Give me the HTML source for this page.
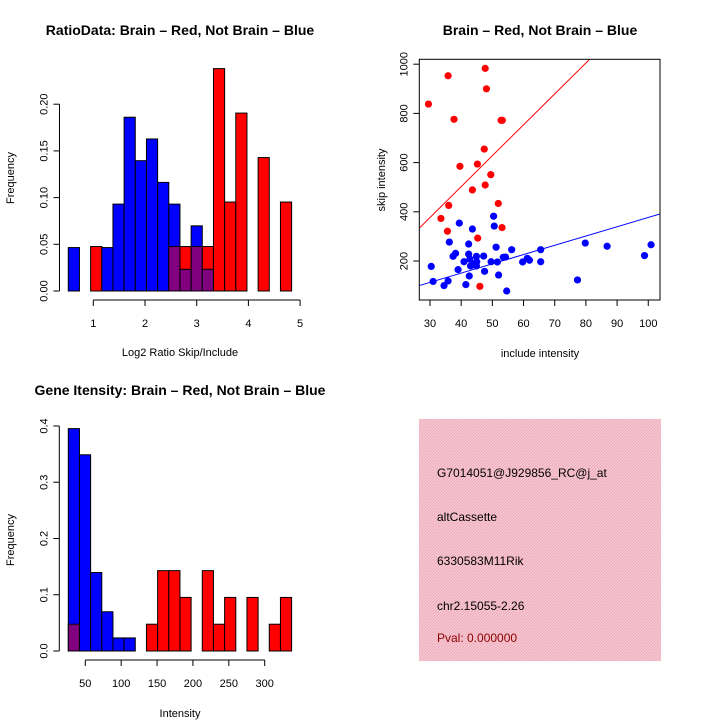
<!DOCTYPE html>
<html><head><meta charset="utf-8"><style>
body{margin:0;background:#fff}
svg{display:block;font-family:"Liberation Sans",Arial,sans-serif}
</style></head><body>
<svg id="c" width="720" height="720" viewBox="0 0 720 720">
<rect width="720" height="720" fill="#fff"/>
<defs><pattern id="hatch" width="3" height="3" patternUnits="userSpaceOnUse"><rect width="3" height="3" fill="#f6c6d0"/><path d="M0,3 L3,0" stroke="#eeaabb" stroke-width="0.8"/></pattern></defs>
<g id="p1"></g>
<g id="p2"></g>
<g id="p3"></g>
<g>
<rect x="419" y="419" width="242" height="242" fill="url(#hatch)"/>
<text x="437" y="477" font-size="12">G7014051@J929856_RC@j_at</text>
<text x="437" y="521" font-size="12">altCassette</text>
<text x="437" y="565" font-size="12">6330583M11Rik</text>
<text x="437" y="610" font-size="12">chr2.15055-2.26</text>
<text x="437" y="642" font-size="12" fill="#8b0000">Pval: 0.000000</text>
</g>
</svg>
<script>
// ---- Ratio histogram data ----
const ratioBinStart = 0.516, ratioBinWidth = 0.216;
const ratioBlueCounts = [2,0,0,2,4,8,6,7,5,4,1,3,1,0,0,0,0,0,0,0];
const ratioRedCounts  = [0,0,1,0,0,0,0,0,0,1,1,1,1,5,2,4,0,3,0,2];
const ratioYTicks = ["0.00","0.05","0.10","0.15","0.20"];
const ratioXTicks = [1,2,3,4,5];
// ---- Scatter data ----
const redInclude = [29.5,35.8,47.7,48.1,37.7,52.8,53.2,47.4,39.6,45.2,49.5,47.7,43.6,36,51.9,33.5,35.6,53.1,45.3,46];
const redSkip    = [838,953,983,900,776,772,772,655,585,594,551,509,489,426,434,373,321,336,293,97];
const blueInclude = [30.4,31,34.5,35.8,36.2,39.4,43.6,37.4,38.2,39,40.9,41.5,42.4,42.4,42.6,42.8,43,44.1,44.9,45,44.9,47.2,47.5,49.6,50.4,50.6,51.2,51.6,52,53.5,54.2,54.6,56.2,59.7,61.2,61.9,65.5,65.5,77.3,79.8,86.8,98.8,100.9];
const blueSkip    = [178,117,100,119,277,354,330,219,231,165,197,104,269,228,139,208,180,188,219,197,180,220,158,197,382,342,256,196,143,215,216,78,246,196,211,203,246,197,123,273,260,222,266];
const fitSlopes = [12.56, 3.77];
const scatterXTicks = [30,40,50,60,70,80,90,100];
const scatterYTicks = [200,400,600,800,1000];
// ---- Gene intensity histogram ----
const geneBinStart = 26.3, geneBinWidth = 15.56;
const geneBlueCounts = [17,15,6,3,1,1,0,0,0,0,0,0,0,0,0,0,0,0,0,0];
const geneRedCounts  = [1,0,0,0,0,0,0,1,3,3,2,0,3,1,2,0,2,0,1,2];
const geneYTicks = ["0.0","0.1","0.2","0.3","0.4"];
const geneXTicks = [50,100,150,200,250,300];

const NS="http://www.w3.org/2000/svg";
function mk(parent,tag,attrs,text){const e=document.createElementNS(NS,tag);for(const k in attrs)e.setAttribute(k,attrs[k]);if(text!==undefined)e.textContent=text;parent.appendChild(e);return e;}

function hist(g,o){
  const sx=v=>o.x0+(v-o.xv0)*o.kx, sy=v=>o.y0-v*o.ky;
  const nb=o.blue.reduce((a,b)=>a+b,0), nr=o.red.reduce((a,b)=>a+b,0);
  for(let i=0;i<o.blue.length;i++){
    const fb=o.blue[i]/nb, fr=o.red[i]/nr;
    const xa=sx(o.start+i*o.w), xb=sx(o.start+(i+1)*o.w);
    const hi=Math.max(fb,fr), lo=Math.min(fb,fr);
    if(hi>0){
      const r=mk(g,'rect',{x:xa,y:sy(hi),width:xb-xa,height:sy(0)-sy(hi),fill:fb>=fr?'#0000ff':'#ff0000',stroke:'#000','stroke-width':1});
      
      
    }
    if(lo>0){
      const r=mk(g,'rect',{x:xa,y:sy(lo),width:xb-xa,height:sy(0)-sy(lo),fill:'#800080',stroke:'#000','stroke-width':1});
      
      
    }
  }
  // y axis
  const yt=o.yticks, tv=yt.map(Number);
  mk(g,'line',{x1:o.yaxX,x2:o.yaxX,y1:sy(tv[0]),y2:sy(tv[tv.length-1]),stroke:'#000'});
  yt.forEach(t=>{const y=sy(Number(t));mk(g,'line',{x1:o.yaxX-6,x2:o.yaxX,y1:y,y2:y,stroke:'#000'});
    const tx=mk(g,'text',{x:o.yaxX-12,y:y,'font-size':11,'text-anchor':'middle',transform:`rotate(-90 ${o.yaxX-12} ${y})`},t);
    
    });
  // x axis
  const xt=o.xticks;
  mk(g,'line',{x1:sx(xt[0]),x2:sx(xt[xt.length-1]),y1:o.xaxY,y2:o.xaxY,stroke:'#000'});
  xt.forEach(t=>{const x=sx(t);mk(g,'line',{x1:x,x2:x,y1:o.xaxY,y2:o.xaxY+6,stroke:'#000'});
    const tx=mk(g,'text',{x:x,y:o.xaxY+27,'font-size':11,'text-anchor':'middle'},String(t));
    
    });
}

const p1=document.getElementById('p1');
hist(p1,{x0:93.3,xv0:1,kx:51.7,y0:291,ky:934,start:ratioBinStart,w:ratioBinWidth,blue:ratioBlueCounts,red:ratioRedCounts,yticks:ratioYTicks,xticks:ratioXTicks,yaxX:59.5,xaxY:300});
let t;
t=mk(p1,'text',{x:180,y:35,'font-size':14,'font-weight':'bold','text-anchor':'middle'},'RatioData: Brain \u2013 Red, Not Brain \u2013 Blue');


t=mk(p1,'text',{x:180,y:356,'font-size':11,'text-anchor':'middle'},'Log2 Ratio Skip/Include');


t=mk(p1,'text',{x:14,y:178,'font-size':11,'text-anchor':'middle',transform:'rotate(-90 14 178)'},'Frequency');



const p3=document.getElementById('p3');
hist(p3,{x0:85.3,xv0:50,kx:0.7176,y0:651,ky:562.5,start:geneBinStart,w:geneBinWidth,blue:geneBlueCounts,red:geneRedCounts,yticks:geneYTicks,xticks:geneXTicks,yaxX:59.3,xaxY:660});
t=mk(p3,'text',{x:180,y:395,'font-size':14,'font-weight':'bold','text-anchor':'middle'},'Gene Itensity: Brain \u2013 Red, Not Brain \u2013 Blue');


t=mk(p3,'text',{x:180,y:717,'font-size':11,'text-anchor':'middle'},'Intensity');


t=mk(p3,'text',{x:14,y:540,'font-size':11,'text-anchor':'middle',transform:'rotate(-90 14 540)'},'Frequency');



// scatter
const p2=document.getElementById('p2');
const L=419.3,R=660,T=59.3,B=300;
const sx2=v=>430+(v-30)*3.118, sy2=v=>261-(v-200)*0.246;
const xmin=30+(L-430)/3.118, xmax=30+(R-430)/3.118;
const cp=mk(mk(p2,'defs',{}),'clipPath',{id:'clip2'});mk(cp,'rect',{x:L,y:T,width:R-L,height:B-T});
const lc=['#ff0000','#0000ff'];
fitSlopes.forEach((s,i)=>{const l=mk(p2,'line',{x1:sx2(xmin),y1:sy2(s*xmin),x2:sx2(xmax),y2:sy2(s*xmax),stroke:lc[i],'stroke-width':1,'clip-path':'url(#clip2)'});
  
  });
redInclude.forEach((v,i)=>{const c=mk(p2,'circle',{cx:sx2(v),cy:sy2(redSkip[i]),r:3.6,fill:'#ff0000'});
  
  });
blueInclude.forEach((v,i)=>{const c=mk(p2,'circle',{cx:sx2(v),cy:sy2(blueSkip[i]),r:3.6,fill:'#0000ff'});
  
  });
mk(p2,'rect',{x:L,y:T,width:R-L,height:B-T,fill:'none',stroke:'#000','stroke-width':1});
scatterXTicks.forEach(v=>{const x=sx2(v);mk(p2,'line',{x1:x,x2:x,y1:B,y2:B+6,stroke:'#000'});
  const tx=mk(p2,'text',{x:x,y:B+27,'font-size':11,'text-anchor':'middle'},String(v));
  
  });
scatterYTicks.forEach(v=>{const y=sy2(v);mk(p2,'line',{x1:L-6,x2:L,y1:y,y2:y,stroke:'#000'});
  const tx=mk(p2,'text',{x:L-12,y:y,'font-size':11,'text-anchor':'middle',transform:`rotate(-90 ${L-12} ${y})`},String(v));
  
  });
t=mk(p2,'text',{x:540,y:35,'font-size':14,'font-weight':'bold','text-anchor':'middle'},'Brain \u2013 Red, Not Brain \u2013 Blue');


t=mk(p2,'text',{x:540,y:357,'font-size':11,'text-anchor':'middle'},'include intensity');


t=mk(p2,'text',{x:385,y:180,'font-size':11,'text-anchor':'middle',transform:'rotate(-90 385 180)'},'skip intensity');


</script>
</body></html>
